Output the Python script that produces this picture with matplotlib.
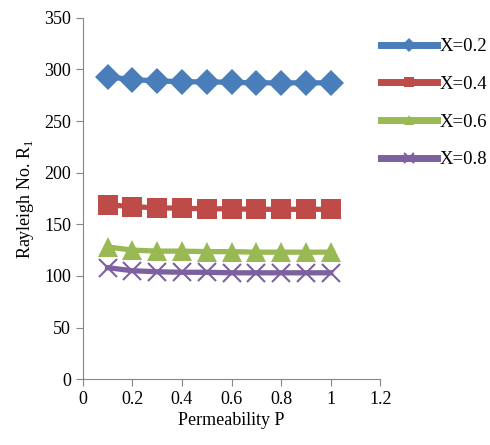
import matplotlib.pyplot as plt

plt.rcParams['font.family'] = ['Liberation Serif', 'DejaVu Serif']
plt.rcParams['mathtext.fontset'] = 'custom'
plt.rcParams['mathtext.rm'] = 'Liberation Serif'

perm = [0.1, 0.2, 0.3, 0.4, 0.5, 0.6, 0.7, 0.8, 0.9, 1.0]
r_02 = [293, 290, 289, 288, 288, 287.5, 287, 287, 287, 287]
r_04 = [169, 167, 166, 165.5, 165, 165, 164.5, 164.5, 164.5, 164.5]
r_06 = [128, 125, 124, 124, 123.5, 123.5, 123, 123, 123, 123]
r_08 = [108, 105, 104, 103.5, 103.5, 103, 103, 103, 103, 103]

series = [
    ('X=0.2', r_02, '#4a7ebb', 'D', 13),
    ('X=0.4', r_04, '#be4b48', 's', 14),
    ('X=0.6', r_06, '#98b954', '^', 14),
    ('X=0.8', r_08, '#7d60a0', 'x', 13),
]

fig = plt.figure(figsize=(4.9, 4.45), dpi=100)
ax = fig.add_axes([0.169, 0.148, 0.607, 0.812])

for label, vals, col, mk, ms in series:
    ax.plot(perm, vals, color=col, lw=3.8, marker=mk, markersize=ms,
            markeredgewidth=1.5 if mk == 'x' else 0, markeredgecolor=col,
            label=label)

ax.set_xlim(0, 1.2)
ax.set_ylim(0, 350)
ax.set_xticks([0, 0.2, 0.4, 0.6, 0.8, 1, 1.2])
ax.set_xticklabels(['0', '0.2', '0.4', '0.6', '0.8', '1', '1.2'])
ax.set_yticks(range(0, 351, 50))

for s in ['top', 'right']:
    ax.spines[s].set_visible(False)
for s in ['left', 'bottom']:
    ax.spines[s].set_color('#868686')
ax.tick_params(colors='#868686', labelcolor='black', labelsize=13, length=5)

ax.set_xlabel('Permeability P', fontsize=13, labelpad=3)
ax.set_ylabel(r'Rayleigh No. R$_\mathregular{1}$', fontsize=13, labelpad=6)

leg = ax.legend(loc='upper left', bbox_to_anchor=(0.965, 0.975), frameon=False,
                fontsize=13.5, handlelength=3.0, labelspacing=1.1, handletextpad=0.1,
                borderaxespad=0.2)
for h in leg.legend_handles:
    h.set_markersize(7)
    h.set_linewidth(5)

fig.savefig('out.png', dpi=100)
